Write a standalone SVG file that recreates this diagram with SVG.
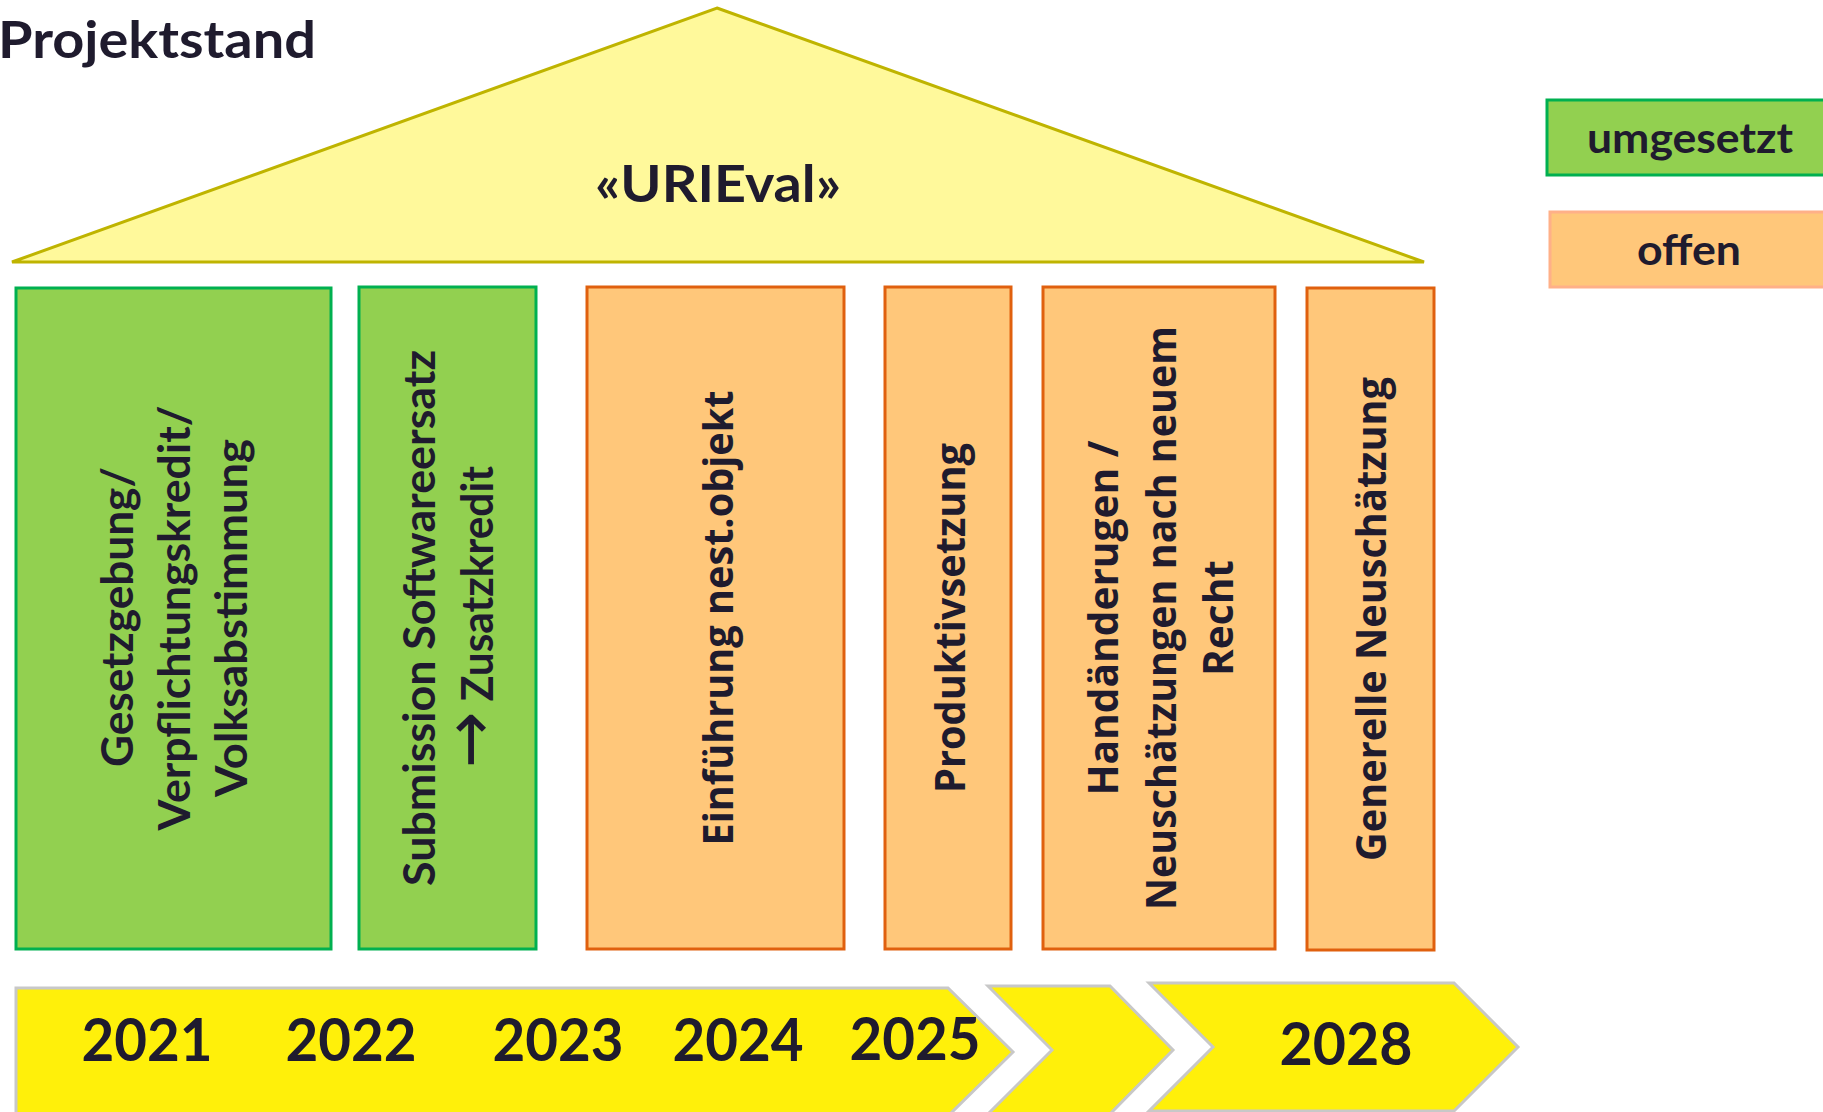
<svg xmlns="http://www.w3.org/2000/svg" width="1823" height="1112" viewBox="0 0 1823 1112">
<style>
  .t { font-family: Lato, "Liberation Sans", sans-serif; font-weight: 700; fill: #1F1B2E; }
  .o { font-family: "Open Sans", "DejaVu Sans", sans-serif; font-weight: 700; fill: #1F1B2E; }
  .green { fill: #92D050; stroke: #00B050; stroke-width: 3; }
  .orange { fill: #FFC77A; stroke: #E0600E; stroke-width: 3; }
  .arrow { fill: #FFF00A; stroke: #C8C8C8; stroke-width: 3; }
  .col { font-size: 44px; }
  .col2 { font-size: 42px; }
  .year { font-size: 60px; }
</style>
<rect width="1823" height="1112" fill="#FFFFFF"/>

<g id="title">
  <text class="t" x="-2" y="58" font-size="52" textLength="318" lengthAdjust="spacingAndGlyphs">Projektstand</text>
</g>

<g id="roof">
  <polygon points="717,8 1424,262 12,262" fill="#FFF99B" stroke="#BFB400" stroke-width="3" stroke-linejoin="miter"/>
  <text class="t" x="718" y="202" font-size="51" text-anchor="middle" textLength="246" lengthAdjust="spacingAndGlyphs">«URIEval»</text>
</g>

<g id="legend-umgesetzt">
  <rect x="1547" y="100" width="290" height="75" fill="#92D050" stroke="#00B050" stroke-width="3"/>
  <text class="t" x="1690" y="153" font-size="42" text-anchor="middle" textLength="206" lengthAdjust="spacingAndGlyphs">umgesetzt</text>
</g>

<g id="legend-offen">
  <rect x="1550" y="212" width="290" height="75" fill="#FFC77A" stroke="#FFB088" stroke-width="3"/>
  <text class="t" x="1689" y="265" font-size="42" text-anchor="middle" textLength="104" lengthAdjust="spacingAndGlyphs">offen</text>
</g>

<g id="col-gesetzgebung">
  <rect class="green" x="16" y="288" width="315" height="661"/>
  <text class="t col" transform="translate(133,617) rotate(-90)" text-anchor="middle" textLength="300" lengthAdjust="spacingAndGlyphs">Gesetzgebung/</text>
  <text class="t col" transform="translate(190,618) rotate(-90)" text-anchor="middle" textLength="425" lengthAdjust="spacingAndGlyphs">Verpflichtungskredit/</text>
  <text class="t col" transform="translate(247,618) rotate(-90)" text-anchor="middle" textLength="358" lengthAdjust="spacingAndGlyphs">Volksabstimmung</text>
</g>

<g id="col-submission">
  <rect class="green" x="359" y="287" width="177" height="662"/>
  <text class="t col" transform="translate(435,618) rotate(-90)" text-anchor="middle" textLength="536" lengthAdjust="spacingAndGlyphs">Submission Softwareersatz</text>
  <text class="t col" transform="translate(493,617) rotate(-90)" text-anchor="middle" textLength="302" lengthAdjust="spacingAndGlyphs"><tspan font-family="DejaVu Sans, sans-serif" font-weight="400" font-size="70">→</tspan> Zusatzkredit</text>
</g>

<g id="col-einfuehrung">
  <rect class="orange" x="587" y="287" width="257" height="662"/>
  <text class="o col2" transform="translate(733,618) rotate(-90)" text-anchor="middle" textLength="455" lengthAdjust="spacingAndGlyphs">Einführung nest.objekt</text>
</g>

<g id="col-produktiv">
  <rect class="orange" x="885" y="287" width="126" height="662"/>
  <text class="o col2" transform="translate(965,618) rotate(-90)" text-anchor="middle" textLength="350" lengthAdjust="spacingAndGlyphs">Produktivsetzung</text>
</g>

<g id="col-handaenderungen">
  <rect class="orange" x="1043" y="287" width="232" height="662"/>
  <text class="o col2" transform="translate(1118,618) rotate(-90)" text-anchor="middle" textLength="355" lengthAdjust="spacingAndGlyphs">Handänderugen /</text>
  <text class="o col2" transform="translate(1176,618) rotate(-90)" text-anchor="middle" textLength="584" lengthAdjust="spacingAndGlyphs">Neuschätzungen nach neuem</text>
  <text class="o col2" transform="translate(1233,618) rotate(-90)" text-anchor="middle" textLength="116" lengthAdjust="spacingAndGlyphs">Recht</text>
</g>

<g id="col-generelle">
  <rect class="orange" x="1307" y="288" width="127" height="662"/>
  <text class="o col2" transform="translate(1386,619) rotate(-90)" text-anchor="middle" textLength="484" lengthAdjust="spacingAndGlyphs">Generelle Neuschätzung</text>
</g>

<g id="timeline">
  <polygon class="arrow" points="16,988 948,988 1013,1052 948,1116 16,1116"/>
  <polygon class="arrow" points="988,986 1110,986 1173,1050 1110,1114 988,1114 1052,1050"/>
  <polygon class="arrow" points="1149,983 1454,983 1518,1047 1454,1111 1149,1111 1213,1047"/>
  <text class="t year" x="147" y="1061" text-anchor="middle" textLength="131" lengthAdjust="spacingAndGlyphs">2021</text>
  <text class="t year" x="351" y="1061" text-anchor="middle" textLength="131" lengthAdjust="spacingAndGlyphs">2022</text>
  <text class="t year" x="558" y="1061" text-anchor="middle" textLength="131" lengthAdjust="spacingAndGlyphs">2023</text>
  <text class="t year" x="738" y="1061" text-anchor="middle" textLength="131" lengthAdjust="spacingAndGlyphs">2024</text>
  <text class="t year" x="915" y="1060" text-anchor="middle" textLength="131" lengthAdjust="spacingAndGlyphs">2025</text>
  <text class="t year" x="1346" y="1065" text-anchor="middle" textLength="133" lengthAdjust="spacingAndGlyphs">2028</text>
</g>
</svg>
